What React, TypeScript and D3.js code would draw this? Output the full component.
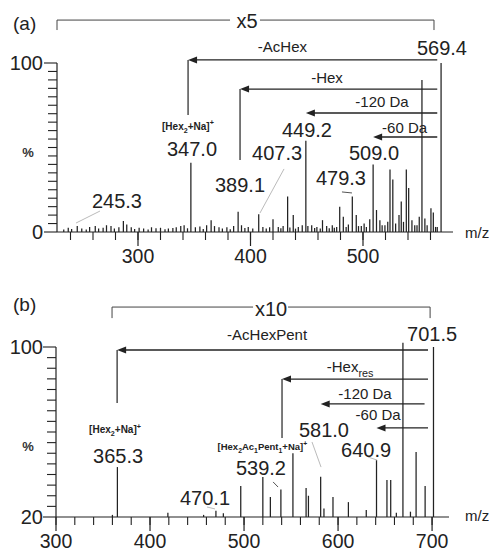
import React from 'react';
import * as d3 from 'd3';

type Part = { t: string; s?: 'sub' | 'sup' };
type Label = { parts: Part[]; mz: number; v: number; size: number; bold?: boolean };
type Loss = { parts: Part[]; from: number; to: number; v: number; tmz: number; tv: number };

const FONT = '"Liberation Sans", Arial, Helvetica, sans-serif';
const INK = '#222';

// ---------- panel (a): m/z 228-580 ----------
const peaksA: [number, number][] = [
  [234, 1.5], [238, 2.5], [241, 1.8], [246, 3.5], [250, 2], [254, 1.5], [257, 3], [262, 3.5], [265, 2],
  [269, 2.5], [272, 4], [276, 3.5], [279, 2], [283, 2.8], [287, 6.5], [290, 4.5], [294, 2.8], [297, 1.8],
  [301, 2.5], [305, 2], [309, 1.5], [312, 2.8], [316, 2.2], [320, 2.5], [324, 1.6], [327, 2], [331, 2.4],
  [334, 2.8], [338, 3.5], [341, 4], [344, 2.2], [347, 41], [351, 2.8], [355, 3.2], [358, 1.8], [361, 4],
  [365, 7], [368, 3.5], [372, 2.8], [375, 2], [379, 2.8], [382, 1.6], [385, 3.5], [389, 12], [392, 4],
  [395, 2.4], [398, 3], [402, 2], [407.3, 10.5], [411, 3], [414, 2], [417, 2.8], [420, 7.5], [424.7, 3],
  [427, 2.2], [429, 3.5], [433, 21], [435, 2.6], [438, 10], [440, 2], [442.5, 3], [446, 4], [449.2, 54],
  [451, 3.5], [454.4, 4], [457, 2.4], [459, 3], [462, 2], [464, 7], [467.7, 3.5], [470, 2.2], [472.7, 4],
  [474.5, 2.5], [476.6, 3], [479.3, 15], [482.5, 9], [485, 3], [487, 4.5], [490.5, 21], [494, 10],
  [496, 3.5], [498.5, 3.5], [501, 5], [503, 3], [506, 7.5], [509, 40], [512, 13], [515, 7], [517, 4],
  [519.5, 4], [522, 6], [524, 37], [526.5, 31], [529, 5], [532, 10], [534, 18], [536, 6], [538.5, 37],
  [540.6, 26], [543.5, 7], [546, 4], [548, 4], [550, 9], [552.4, 90], [555, 8], [557, 4], [560.4, 14],
  [562.5, 11.5], [564.5, 3], [566, 3], [569.4, 100],
];

const hexNa: Part[] = [{ t: '[Hex' }, { t: '2', s: 'sub' }, { t: '+Na]' }, { t: '+', s: 'sup' }];

const labelsA: Label[] = [
  { parts: [{ t: '569.4' }], mz: 570.2, v: 104.7, size: 20 },
  { parts: [{ t: '347.0' }], mz: 348, v: 45, size: 20 },
  { parts: hexNa, mz: 344.4, v: 60.4, size: 10, bold: true },
  { parts: [{ t: '449.2' }], mz: 450.2, v: 56.2, size: 20 },
  { parts: [{ t: '407.3' }], mz: 423.6, v: 42.6, size: 20 },
  { parts: [{ t: '389.1' }], mz: 390.7, v: 23.7, size: 20 },
  { parts: [{ t: '509.0' }], mz: 509.8, v: 42.6, size: 20 },
  { parts: [{ t: '479.3' }], mz: 480.4, v: 27.8, size: 20 },
  { parts: [{ t: '245.3' }], mz: 281.3, v: 14.2, size: 20 },
];

const lossesA: Loss[] = [
  { parts: [{ t: '-AcHex' }], from: 566, to: 344.5, v: 101.8, tmz: 428.4, tv: 106.5 },
  { parts: [{ t: '-Hex' }], from: 566, to: 390.7, v: 84.6, tmz: 468, tv: 88 },
  { parts: [{ t: '-120 Da' }], from: 566, to: 449.2, v: 70.4, tmz: 516.9, tv: 74 },
  { parts: [{ t: '-60 Da' }], from: 566, to: 509, v: 56.2, tmz: 537, tv: 58.6 },
];

// vertical drop lines below arrow tips: [mz, top, bottom]
const dropsA: [number, number, number][] = [[344.5, 101.8, 69.2], [390.7, 84.6, 42.6]];
// leader lines: [mz1, v1, mz2, v2, light]
const leadersA: [number, number, number, number, number][] = [
  [266.2, 12.4, 244.9, 5.3, 1], [429.8, 37.3, 408.4, 11.2, 1], [481.3, 23.7, 490.2, 23.1, 0],
];

// ---------- panel (b): m/z 300-718 ----------
const peaksB: [number, number][] = [
  [360, 21], [365.3, 43.5], [419, 22], [457, 21], [470.1, 23], [478, 21.8], [496.5, 34.6], [520, 38.8],
  [528, 29.4], [539.2, 33], [552, 50], [566, 33.6], [568.5, 30], [581.5, 39], [585, 24], [594.6, 29.4],
  [611, 27], [630, 23.3], [640.9, 46.8], [652, 37.4], [656, 37.4], [662, 22], [669, 102], [677, 22.5],
  [683, 50.6], [692.6, 34.6], [701.5, 100],
];

const labelsB: Label[] = [
  { parts: [{ t: '701.5' }], mz: 700, v: 102.8, size: 20 },
  { parts: hexNa, mz: 362.8, v: 59.5, size: 10, bold: true },
  { parts: [{ t: '365.3' }], mz: 366, v: 45.4, size: 20 },
  { parts: [{ t: '470.1' }], mz: 458.5, v: 25.6, size: 20 },
  {
    parts: [{ t: '[Hex' }, { t: '2', s: 'sub' }, { t: 'Ac' }, { t: '1', s: 'sub' }, { t: 'Pent' }, { t: '1', s: 'sub' }, { t: '+Na]' }, { t: '+', s: 'sup' }],
    mz: 519.5, v: 51.3, size: 9.5, bold: true,
  },
  { parts: [{ t: '539.2' }], mz: 518, v: 39.8, size: 20 },
  { parts: [{ t: '581.0' }], mz: 585, v: 57.6, size: 20 },
  { parts: [{ t: '640.9' }], mz: 629.8, v: 48.2, size: 20 },
];

const lossesB: Loss[] = [
  { parts: [{ t: '-AcHexPent' }], from: 695.7, to: 365, v: 98.6, tmz: 524.5, tv: 103.3 },
  { parts: [{ t: '-Hex' }, { t: 'res', s: 'sub' }], from: 695.7, to: 540.4, v: 84.9, tmz: 612.8, tv: 88.2 },
  { parts: [{ t: '-120 Da' }], from: 692, to: 581.5, v: 73.2, tmz: 628.7, tv: 75.5 },
  { parts: [{ t: '-60 Da' }], from: 695.7, to: 640.9, v: 61.9, tmz: 642.6, tv: 65.6 },
];

const dropsB: [number, number, number][] = [[365, 98.6, 73.6], [540.4, 84.9, 57.2]];
const leadersB: [number, number, number, number, number][] = [
  [460.6, 24.7, 469.1, 23.8, 1], [530.9, 36.5, 536.2, 34.1, 0], [572.3, 55.3, 581.9, 43.5, 1], [631.9, 48.2, 641.5, 46.8, 1],
];

type Panel = {
  tag: string; tagY: number;
  xDomain: [number, number]; xRange: [number, number];
  yDomain: [number, number]; yRange: [number, number];
  xMajor: number[]; xMinor: number[]; yLabels: number[]; yMinor: number[];
  peaks: [number, number][]; labels: Label[]; losses: Loss[];
  drops: [number, number, number][]; leaders: [number, number, number, number, number][];
  bracket: { x0: number; x1: number; g0: number; g1: number; v: number; vDrop: number; text: string; tmz: number; tv: number };
  pctY: number; mzY: number;
};

const panels: Panel[] = [
  {
    tag: '(a)', tagY: 30,
    xDomain: [228, 580], xRange: [57, 453], yDomain: [0, 100], yRange: [232, 63],
    xMajor: [300, 400, 500], xMinor: d3.range(240, 561, 20), yLabels: [0, 100], yMinor: d3.range(0, 101, 5),
    peaks: peaksA, labels: labelsA, losses: lossesA, drops: dropsA, leaders: leadersA,
    bracket: { x0: 228, x1: 563.1, g0: 381.8, g1: 408.4, v: 125.4, vDrop: 119.5, text: 'x5', tmz: 396.9, tv: 120.7 },
    pctY: 157, mzY: 238,
  },
  {
    tag: '(b)', tagY: 311,
    xDomain: [300, 718], xRange: [56, 449], yDomain: [20, 100], yRange: [517, 347],
    xMajor: [300, 400, 500, 600, 700], xMinor: d3.range(300, 718, 20), yLabels: [20, 100], yMinor: d3.range(20, 101, 5),
    peaks: peaksB, labels: labelsB, losses: lossesB, drops: dropsB, leaders: leadersB,
    bracket: { x0: 359.6, x1: 697.9, g0: 509.6, g1: 546.8, v: 118.8, vDrop: 113.6, text: 'x10', tmz: 528.7, tv: 114.6 },
    pctY: 451, mzY: 521,
  },
];

function Rich({ parts, x, y, size, bold }: { parts: Part[]; x: number; y: number; size: number; bold?: boolean }) {
  const shift = (s?: string) => (s === 'sub' ? size * 0.3 : s === 'sup' ? -size * 0.45 : 0);
  return (
    <text x={x} y={y} fontSize={size} textAnchor="middle" fontWeight={bold ? 'bold' : 'normal'} fill={INK}>
      {parts.map((p, i) => (
        <tspan key={i} dy={shift(p.s) - (i > 0 ? shift(parts[i - 1].s) : 0)} fontSize={p.s ? size * 0.72 : size}>
          {p.t}
        </tspan>
      ))}
    </text>
  );
}

function Spectrum({ p }: { p: Panel }) {
  const x = d3.scaleLinear().domain(p.xDomain).range(p.xRange);
  const y = d3.scaleLinear().domain(p.yDomain).range(p.yRange);
  const base = y(p.yDomain[0]);
  const left = p.xRange[0];
  const b = p.bracket;
  return (
    <g>
      <text x={13} y={p.tagY} fontSize={19} fill={INK}>{p.tag}</text>

      {/* magnification bracket */}
      <path
        d={`M${x(b.x0)},${y(b.vDrop)}V${y(b.v)}H${x(b.g0)}M${x(b.g1)},${y(b.v)}H${x(b.x1)}V${y(b.vDrop)}`}
        fill="none" stroke="#444" strokeWidth={1}
      />
      <text x={x(b.tmz)} y={y(b.tv)} fontSize={20} textAnchor="middle" fill={INK}>{b.text}</text>

      {/* peaks */}
      {p.peaks.map(([mz, v], i) => (
        <line key={i} x1={x(mz)} x2={x(mz)} y1={base} y2={y(v)} stroke={INK} strokeWidth={1.25} />
      ))}

      {/* axes */}
      <line x1={left} x2={left} y1={base} y2={y(100)} stroke={INK} strokeWidth={1.2} />
      <line x1={left} x2={p.xRange[1]} y1={base} y2={base} stroke={INK} strokeWidth={1.2} />
      {p.yMinor.map((t) => (
        <line key={t} x1={left - (p.yLabels.includes(t) ? 13 : 9)} x2={left} y1={y(t)} y2={y(t)} stroke={INK} strokeWidth={1.1} />
      ))}
      {p.yLabels.map((t) => (
        <text key={t} x={43} y={y(t)} dy="0.36em" fontSize={20} textAnchor="end" fill={INK}>{t}</text>
      ))}
      {p.xMinor.map((t) => (
        <line key={t} x1={x(t)} x2={x(t)} y1={base} y2={base + 8} stroke={INK} strokeWidth={1.1} />
      ))}
      {p.xMajor.map((t) => (
        <g key={t}>
          <line x1={x(t)} x2={x(t)} y1={base} y2={base + 14} stroke={INK} strokeWidth={1.2} />
          <text x={x(t)} y={base + 31} fontSize={19.5} textAnchor="middle" fill={INK}>{t}</text>
        </g>
      ))}
      <text x={28} y={p.pctY} fontSize={13} fontWeight="bold" textAnchor="middle" fill="#333">%</text>
      <text x={465} y={p.mzY} fontSize={15} fill={INK}>m/z</text>

      {/* neutral-loss arrows */}
      {p.losses.map((l, i) => {
        const tip = x(l.to);
        const yy = y(l.v);
        return (
          <g key={i}>
            <line x1={x(l.from)} x2={tip + 6} y1={yy} y2={yy} stroke={INK} strokeWidth={1.3} />
            <path d={`M${tip},${yy}L${tip + 9},${yy - 3.5}L${tip + 9},${yy + 3.5}Z`} fill={INK} />
            <Rich parts={l.parts} x={x(l.tmz)} y={y(l.tv)} size={15} />
          </g>
        );
      })}
      {p.drops.map(([mz, t, bt], i) => (
        <line key={i} x1={x(mz)} x2={x(mz)} y1={y(t)} y2={y(bt)} stroke={INK} strokeWidth={1.2} />
      ))}
      {p.leaders.map(([m1, v1, m2, v2, light], i) => (
        <line key={i} x1={x(m1)} y1={y(v1)} x2={x(m2)} y2={y(v2)} stroke={light ? '#bbb' : '#555'} strokeWidth={1} />
      ))}

      {/* peak labels */}
      {p.labels.map((l, i) => (
        <Rich key={i} parts={l.parts} x={x(l.mz)} y={y(l.v)} size={l.size} bold={l.bold} />
      ))}
    </g>
  );
}

export default function App() {
  return (
    <svg
      width={491}
      height={551}
      viewBox="0 0 491 551"
      style={{ position: 'absolute', left: 0, top: 0, background: 'white', fontFamily: FONT }}
    >
      {panels.map((p) => (
        <Spectrum key={p.tag} p={p} />
      ))}
    </svg>
  );
}
